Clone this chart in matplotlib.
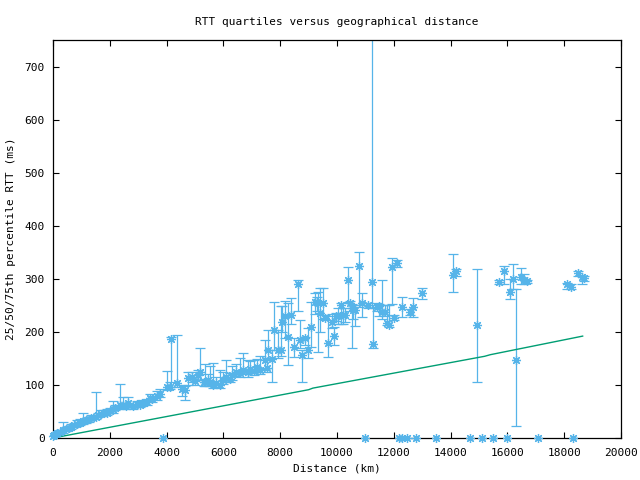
'''
RTT quartiles (25/50/75th percentile) against geographical distance.
'''

import matplotlib
matplotlib.use('Agg')
import matplotlib.pyplot as plt
import numpy as np

# distance (km), median RTT, 25th and 75th percentile RTT (ms)
dist = [0, 50, 100, 150, 250, 360, 450, 550, 650, 750, 850, 950, 1070, 1150, 1250,
        1350, 1500, 1600, 1700, 1800, 1900, 2000, 2100, 2200, 2360, 2460, 2560, 2640,
        2820, 2950, 3050, 3150, 3300, 3400, 3500, 3660, 3770, 4000, 4120, 4155, 4380,
        4540, 4650, 4750, 4890, 5000, 5100, 5180, 5300, 5350, 5450, 5530, 5630, 5750,
        5880, 6000, 6100, 6230, 6300, 6450, 6580, 6700, 6850, 6950, 7080, 7180, 7300,
        7460, 7530, 7580, 7700, 7790, 7910, 8030, 8075, 8170, 8260, 8380, 8500, 8615,
        8700, 8780, 8870, 8990, 9080, 9225, 9285, 9340, 9400, 9500, 9580, 9690, 9810,
        9900, 9960, 10050, 10130, 10220, 10280, 10380, 10460, 10520, 10575, 10630,
        10790, 10890, 11100, 11220, 11270, 11400, 11490, 11600, 11690, 11750, 11830,
        11925, 12010, 12100, 12300, 12570, 12690, 13000, 14100, 14190, 14920, 15700,
        15890, 16090, 16210, 16310, 16480, 16585, 16700, 18090, 18230, 18500, 18615,
        18710]
med = [3, 6, 8, 10, 12, 15, 17, 19, 21, 24, 26, 28, 32, 33, 35,
       37, 40, 43, 46, 47, 48, 51, 55, 57, 62, 63, 60, 66,
       60, 64, 63, 66, 68, 75, 73, 80, 83, 97, 97, 187, 104,
       92, 90, 113, 115, 108, 118, 125, 105, 106, 110, 106, 100, 103,
       100, 110, 115, 112, 119, 125, 122, 128, 124, 130, 126, 133, 128,
       147, 132, 166, 149, 204, 166, 166, 219, 230, 190, 232, 172, 290,
       185, 157, 188, 166, 209, 257, 257, 255, 235, 254, 226, 179, 219,
       192, 229, 230, 251, 232, 232, 298, 254, 245, 242, 242,
       325, 255, 251, 294, 177, 247, 248, 238, 238, 216, 213,
       323, 226, 330, 246, 238, 247, 274, 308, 315, 213, 294,
       314, 275, 300, 147, 304, 298, 295, 291, 284, 311, 304,
       301]
q25 = [0, 3, 5, 5, 8, 10, 13, 15, 17, 20, 22, 24, 27, 29, 31,
       33, 35, 39, 42, 43, 44, 47, 48, 52, 55, 57, 55, 59,
       55, 58, 58, 60, 62, 70, 68, 72, 78, 90, 92, 97, 96,
       80, 72, 100, 105, 100, 110, 110, 98, 98, 102, 98, 95, 96,
       95, 102, 105, 105, 110, 117, 115, 120, 115, 122, 118, 125, 120,
       130, 125, 147, 106, 166, 150, 155, 200, 188, 138, 214, 153, 240,
       170, 106, 175, 150, 172, 233, 240, 163, 200, 225, 222, 153, 208,
       175, 220, 215, 215, 215, 218, 257, 240, 169, 225, 211,
       247, 228, 245, 245, 170, 240, 230, 225, 230, 213, 210,
       253, 222, 323, 228, 232, 228, 262, 275, 305, 106, 290,
       290, 262, 281, 23, 290, 290, 292, 280, 280, 306, 290,
       296]
q75 = [6, 9, 12, 14, 16, 30, 21, 23, 26, 29, 33, 35, 47, 38, 40,
       43, 87, 48, 52, 53, 55, 57, 70, 62, 102, 78, 66, 78,
       65, 70, 68, 72, 73, 82, 80, 89, 92, 127, 105, 190, 194,
       100, 98, 125, 125, 115, 128, 170, 112, 140, 120, 135, 141, 115,
       128, 125, 147, 122, 135, 140, 150, 160, 147, 145, 147, 148, 155,
       185, 150, 204, 166, 257, 204, 248, 248, 259, 255, 264, 188, 297,
       223, 166, 190, 207, 257, 273, 265, 276, 282, 282, 232, 230, 233,
       210, 235, 245, 255, 245, 245, 322, 258, 252, 250, 250,
       350, 273, 255, 900, 250, 255, 252, 297, 250, 250, 250,
       339, 232, 336, 265, 243, 264, 282, 347, 318, 318, 298,
       325, 300, 328, 281, 320, 309, 298, 293, 290, 314, 306,
       306]

# distances with zero RTT
zero_dist = [3870, 10990, 12190, 12300, 12450, 12780, 13500, 14680, 15090, 15500,
             16000, 17070, 18300]

# lower bound line (speed of light in fibre)
line_dist = [0, 9000, 9150, 15200, 15400, 18650]
line_rtt = [0, 91, 94, 154, 157, 192]

# figure style
plt.rcParams['font.family'] = 'DejaVu Sans Mono'
plt.rcParams['font.size'] = 8

blue = '#56b4e9'
green = '#009e73'

fig = plt.figure(figsize=(6.4, 4.8), dpi=100)
ax = fig.add_axes([53/640, 42/480, 568/640, 398/480])

med = np.array(med)
yerr = [med - np.array(q25), np.array(q75) - med]
ax.errorbar(dist, med, yerr=yerr, fmt='none', ecolor=blue, elinewidth=0.9,
            capsize=3.5, capthick=0.9, zorder=2)
ax.plot(dist, med, linestyle='none', marker=(8, 2, 0), markersize=6.5,
        markeredgecolor=blue, markeredgewidth=0.9, zorder=3, clip_on=False)
ax.plot(zero_dist, np.zeros(len(zero_dist)), linestyle='none', marker=(8, 2, 0),
        markersize=6.5, markeredgecolor=blue, markeredgewidth=0.9, zorder=3,
        clip_on=False)
ax.plot(line_dist, line_rtt, color=green, linewidth=1.0, zorder=2)

ax.set_xlim(0, 20000)
ax.set_ylim(0, 750)
ax.set_xticks(np.arange(0, 20001, 2000))
ax.set_yticks(np.arange(0, 701, 100))
ax.tick_params(direction='in', top=True, right=True, length=4, width=0.8,
               labelsize=8)
ax.tick_params(axis='x', pad=7)
ax.tick_params(axis='y', pad=6)
for spine in ('top', 'right', 'bottom', 'left'):
    ax.spines[spine].set_linewidth(0.9)

ax.set_title('RTT quartiles versus geographical distance', fontsize=8, pad=11)
ax.set_xlabel('Distance (km)', labelpad=4)
ax.set_ylabel('25/50/75th percentile RTT (ms)', labelpad=6)

plt.savefig('out.png', dpi=100)
